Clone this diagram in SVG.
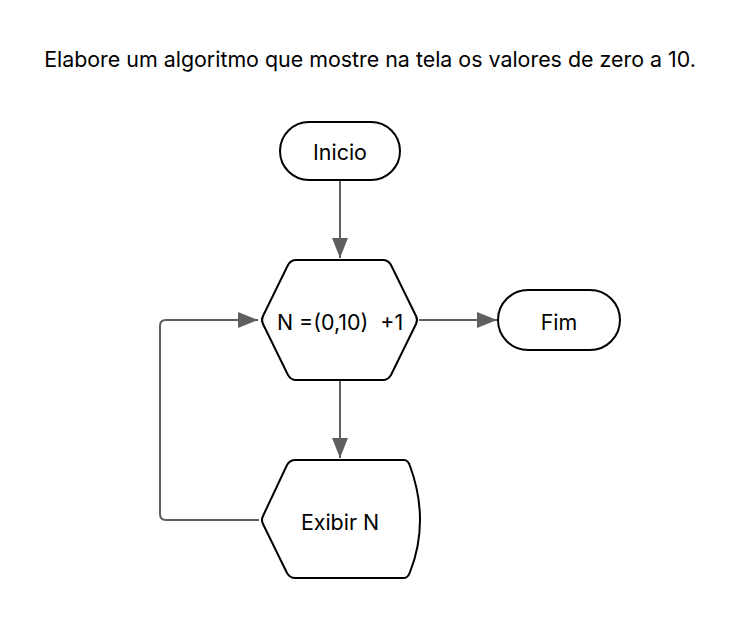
<svg xmlns="http://www.w3.org/2000/svg" width="740" height="620" viewBox="0 0 740 620">
<defs>
<style>
text{font-family:Inter,"Liberation Sans",sans-serif;fill:#000;}
.t{font-size:21.4px;}
.n{fill:#fff;stroke:#000;stroke-width:2;stroke-linejoin:round;}
.c{fill:none;stroke:#5f5f5f;stroke-width:2;}
</style>
<marker id="ah" viewBox="0 0 20 16" refX="20" refY="8" markerWidth="20" markerHeight="16" markerUnits="userSpaceOnUse" orient="auto"><path d="M0,0L20,8L0,16z" fill="#5f5f5f"/></marker>
</defs>
<rect width="740" height="620" fill="#fff"/>
<text x="370" y="67" text-anchor="middle" class="t">Elabore um algoritmo que mostre na tela os valores de zero a 10.</text>
<g id="connectors">
<path class="c" d="M340,181V258" marker-end="url(#ah)"/>
<path class="c" d="M419,320H497" marker-end="url(#ah)"/>
<path class="c" d="M340,380V458" marker-end="url(#ah)"/>
<path class="c" d="M259,520H166Q160,520 160,514V326Q160,320 166,320H258" marker-end="url(#ah)"/>
</g>
<g id="inicio">
<rect class="n" x="280" y="122" width="120" height="58" rx="29"/>
<text x="340" y="160" text-anchor="middle" class="t">Inicio</text>
</g>
<g id="processo">
<path class="n" d="M296,260H383Q388,260 391,265L416,316Q418,320 416,324L391,375Q388,380 383,380H296Q291,380 288,375L263,324Q261,320 263,316L288,265Q291,260 296,260Z"/>
<text x="340" y="330" text-anchor="middle" class="t" xml:space="preserve">N =(0,10)  +1</text>
</g>
<g id="fim">
<rect class="n" x="498" y="290" width="122" height="60" rx="30"/>
<text x="559" y="330" text-anchor="middle" class="t">Fim</text>
</g>
<g id="exibir">
<path class="n" d="M295,460H404Q408,460 410,466Q420,493 420,520Q420,547 410,572Q408,578 404,578H295Q290,578 287,573L263,524Q261,520 263,516L287,465Q290,460 295,460Z"/>
<text x="340" y="530" text-anchor="middle" class="t">Exibir N</text>
</g>
</svg>
